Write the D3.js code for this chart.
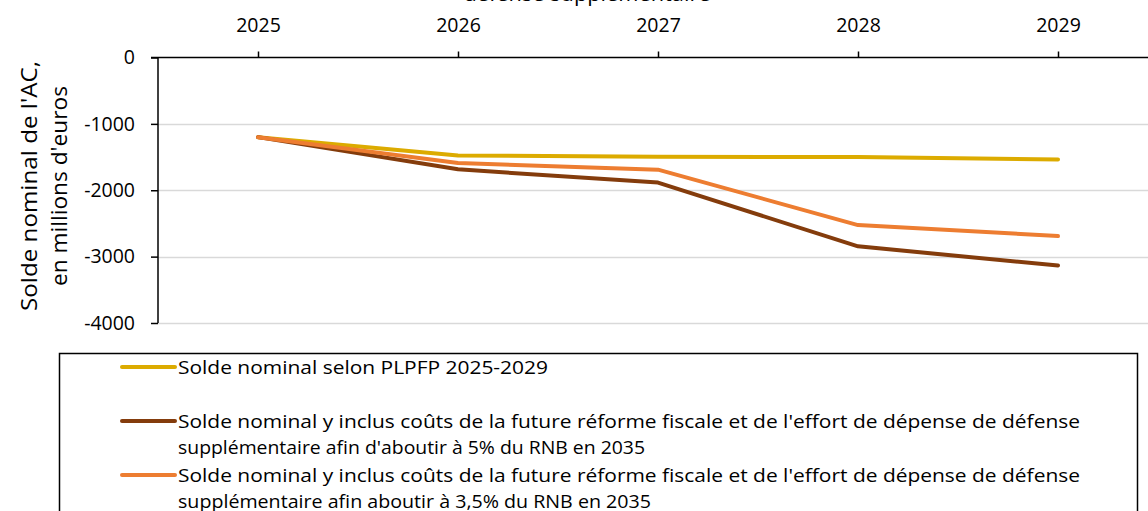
<!DOCTYPE html>
<html>
<head>
<meta charset="utf-8">
<script src="https://cdn.jsdelivr.net/npm/d3@7"></script>
<style>
  body { margin: 0; background: #fff; }
  text { font-family: "Open Sans", "Noto Sans", sans-serif; fill: #000; }
</style>
</head>
<body>
<div id="canvas"></div>
<script>
// data
var years = ['2025', '2026', '2027', '2028', '2029'];
var soldePlpfp = [-1200, -1475, -1495, -1500, -1535];
var soldeDefense5 = [-1200, -1685, -1885, -2845, -3135];
var soldeDefense35 = [-1200, -1590, -1690, -2525, -2690];
var yTicks = [0, -1000, -2000, -3000, -4000];

var seriesNames = [
    ['Solde nominal selon PLPFP 2025-2029'],
    ["Solde nominal y inclus coûts de la future réforme fiscale et de l'effort de dépense de défense",
     "supplémentaire afin d'aboutir à 5% du RNB en 2035"],
    ["Solde nominal y inclus coûts de la future réforme fiscale et de l'effort de dépense de défense",
     'supplémentaire afin aboutir à 3,5% du RNB en 2035']
];
var colors = ['#dcab00', '#843c0c', '#ed7d31'];

var W = 1148, H = 511;
var m = {t: 57.5, l: 158, b: 323};

var svg = d3.select('#canvas').append('svg')
    .attr('width', W).attr('height', H);

var x = d3.scalePoint().domain(years).range([m.l, m.l + 1000]).padding(0.5);
var y = d3.scaleLinear().domain([-4000, 0]).range([m.b, m.t]);

// gridlines
svg.append('g').selectAll('line')
    .data(yTicks.filter(function(d){return d !== 0;}))
    .enter().append('line')
    .attr('x1', m.l).attr('x2', W)
    .attr('y1', function(d){return Math.round(y(d)) + 0.5;})
    .attr('y2', function(d){return Math.round(y(d)) + 0.5;})
    .style('stroke', '#d9d9d9').style('stroke-width', 1.3);

// y axis
var yAxis = svg.append('g')
    .attr('transform', 'translate(' + m.l + ',0)')
    .call(d3.axisLeft(y).tickValues(yTicks).tickSize(7).tickPadding(16)
        .tickFormat(function(d){return String(d);}));
yAxis.selectAll('text').style('font-size', '19.5px').style('font-family', '"Open Sans", sans-serif');
yAxis.selectAll('line,path').style('stroke', '#000').style('stroke-width', 1.5);
yAxis.select('.domain').attr('d', 'M0,' + m.t + 'V' + m.b);

// x axis on top
var xAxis = svg.append('g')
    .attr('transform', 'translate(0,' + m.t + ')')
    .call(d3.axisTop(x).tickSize(6).tickPadding(19.5).tickSizeOuter(0));
xAxis.selectAll('text').style('font-size', '19.5px').style('font-family', '"Open Sans", sans-serif');
xAxis.selectAll('line,path').style('stroke', '#000').style('stroke-width', 1.5);
xAxis.select('.domain').attr('d', 'M' + (m.l - 7) + ',0H' + W);

// y axis title
var yt = svg.append('text')
    .attr('transform', 'translate(37,186) rotate(-90)')
    .attr('text-anchor', 'middle')
    .style('font-size', '22px');
yt.append('tspan').attr('x', 0).attr('y', 0)
    .attr('textLength', 250).attr('lengthAdjust', 'spacingAndGlyphs')
    .text("Solde nominal de l'AC,");
yt.append('tspan').attr('x', 0).attr('y', 30)
    .attr('textLength', 200).attr('lengthAdjust', 'spacingAndGlyphs')
    .text("en millions d'euros");

// clipped title remnant (rest of the title is above the frame)
svg.append('text')
    .attr('x', 587).attr('y', 1)
    .attr('text-anchor', 'middle')
    .attr('textLength', 247).attr('lengthAdjust', 'spacingAndGlyphs')
    .style('font-size', '20px')
    .text('défense supplémentaire');

// lines
var line = d3.line()
    .x(function(d, i){return x(years[i]);})
    .y(function(d){return y(d);});

[soldePlpfp, soldeDefense5, soldeDefense35].forEach(function(s, k){
    svg.append('path').datum(s)
        .attr('d', line)
        .style('fill', 'none')
        .style('stroke', colors[k])
        .style('stroke-width', 4)
        .style('stroke-linecap', 'round')
        .style('stroke-linejoin', 'round');
});

// legend
svg.append('rect')
    .attr('x', 59.5).attr('y', 353.5)
    .attr('width', 1078).attr('height', 200)
    .style('fill', 'none').style('stroke', '#000').style('stroke-width', 1.5);

var legRows = [367, 421, 475];
var widths = [[370], [902, 467], [902, 473]];
seriesNames.forEach(function(lines, i){
    var g = svg.append('g');
    g.append('line')
        .attr('x1', 122).attr('x2', 175)
        .attr('y1', legRows[i]).attr('y2', legRows[i])
        .style('stroke', colors[i]).style('stroke-width', 4)
        .style('stroke-linecap', 'round');
    lines.forEach(function(t, j){
        g.append('text')
            .attr('x', 178).attr('y', legRows[i] + 6.5 + j * 26)
            .attr('textLength', widths[i][j])
            .attr('lengthAdjust', 'spacingAndGlyphs')
            .style('font-size', '18.5px')
            .text(t);
    });
});
</script>
</body>
</html>
